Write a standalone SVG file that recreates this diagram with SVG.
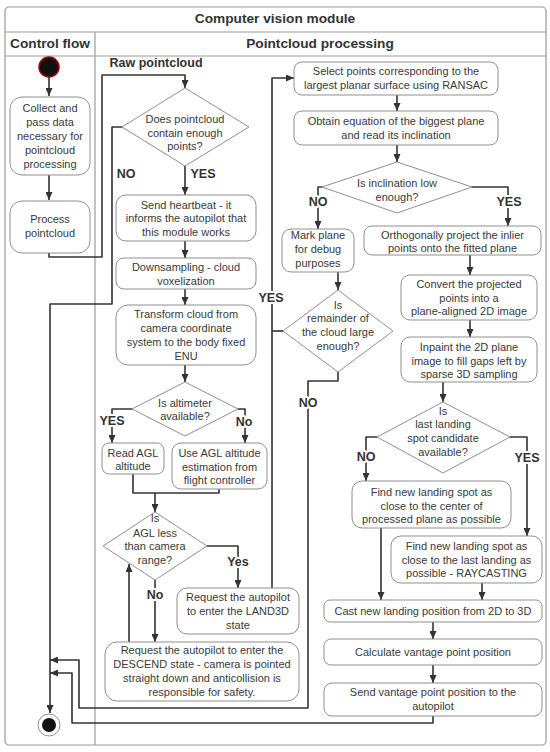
<svg xmlns="http://www.w3.org/2000/svg" width="550" height="752" viewBox="0 0 550 752">
<style>
.frame{fill:none;stroke:#9a9a9a;stroke-width:1.2}
.box{fill:#fff;stroke:#8f8f8f;stroke-width:1}
.t{font-family:"Liberation Sans",Arial,sans-serif;font-size:11px;fill:#3a3a3a;text-anchor:middle}
.h{font-family:"Liberation Sans",Arial,sans-serif;font-size:13.7px;font-weight:bold;fill:#333;text-anchor:middle}
.lbl{font-family:"Liberation Sans",Arial,sans-serif;font-size:12.5px;font-weight:bold;fill:#333;text-anchor:middle;paint-order:stroke;stroke:#fff;stroke-width:4px;stroke-linejoin:round}
.c{fill:none;stroke:#333;stroke-width:1.6;stroke-linejoin:round}
.ca{fill:none;stroke:#333;stroke-width:1.6;stroke-linejoin:round;marker-end:url(#ah)}
</style>
<defs>
<marker id="ah" viewBox="0 0 8 7" refX="8" refY="3.5" markerWidth="8" markerHeight="7" markerUnits="userSpaceOnUse" orient="auto"><path d="M0,0 L8,3.5 L0,7 z" fill="#333"/></marker>
</defs>
<rect width="550" height="752" fill="#fff"/>
<g id="swimlanes">
<rect class="frame" x="5" y="7" width="541" height="738" rx="4"/>
<line class="frame" x1="5" y1="32" x2="546" y2="32"/>
<line class="frame" x1="5" y1="56" x2="546" y2="56"/>
<line class="frame" x1="95" y1="32" x2="95" y2="745"/>
<text class="h" x="275" y="23">Computer vision module</text>
<text class="h" x="50" y="48">Control flow</text>
<text class="h" x="320" y="48">Pointcloud processing</text>
<text class="h" x="156" y="67" style="font-size:12.5px">Raw pointcloud</text>
</g>
<g id="connectors">
<path class="ca" d="M49,77 V96"/>
<path class="ca" d="M49,175 V200"/>
<path class="ca" d="M49,253 V257 H102 V75 H185 V88"/>
<path class="ca" d="M122,127 H112 V304 H50 V713"/>
<path class="ca" d="M185,166 V195"/>
<path class="ca" d="M185,241 V258"/>
<path class="ca" d="M185,289 V305"/>
<path class="ca" d="M185,365 V382"/>
<path class="ca" d="M132,409 H112 V443"/>
<path class="ca" d="M238,409 H245 V443"/>
<path class="c" d="M133,474 V493 H219 V489"/>
<path class="ca" d="M155,493 V512"/>
<path class="ca" d="M207,546 H238 V588"/>
<path class="ca" d="M155,580 V642"/>
<path class="ca" d="M129,642 V564"/>
<path class="ca" d="M272,588 V78 H294"/>
<path class="c" d="M283,331 H272"/>
<path class="ca" d="M397,95 V111"/>
<path class="ca" d="M397,145 V162"/>
<path class="ca" d="M322,187 H318 V229"/>
<path class="ca" d="M472,187 H508 V226"/>
<path class="ca" d="M338,272 V290"/>
<path class="ca" d="M338,372 V381 H308 V708 H79 V660 H50"/>
<path class="ca" d="M470,255 V275"/>
<path class="ca" d="M470,320 V337"/>
<path class="ca" d="M443,382 V402"/>
<path class="ca" d="M377,437 H366 V481"/>
<path class="ca" d="M510,437 H527 V536"/>
<path class="ca" d="M381,528 V600"/>
<path class="ca" d="M482,583 V600"/>
<path class="ca" d="M433,622 V639"/>
<path class="ca" d="M433,665 V683"/>
<path class="ca" d="M433,716 V723 H72 V673 H50"/>
<text class="lbl" x="126" y="178">NO</text>
<text class="lbl" x="203" y="178">YES</text>
<text class="lbl" x="112" y="425">YES</text>
<text class="lbl" x="244" y="426">No</text>
<text class="lbl" x="238" y="566">Yes</text>
<text class="lbl" x="155" y="599">No</text>
<text class="lbl" x="271" y="302">YES</text>
<text class="lbl" x="318" y="206">NO</text>
<text class="lbl" x="509" y="206">YES</text>
<text class="lbl" x="308" y="407">NO</text>
<text class="lbl" x="366" y="461">NO</text>
<text class="lbl" x="527" y="462">YES</text>
</g>
<g id="start"><circle cx="49" cy="67" r="10" fill="#111" stroke="#a00000" stroke-width="1.5"/></g>
<g id="end"><circle cx="49" cy="725" r="11" fill="#fff" stroke="#8f8f8f" stroke-width="1"/><circle cx="49" cy="725" r="7" fill="#111"/></g>
<g id="collect"><rect class="box" x="10" y="97" width="80" height="78" rx="12"/>
<text class="t" x="50" y="112">Collect and</text><text class="t" x="50" y="126">pass data</text><text class="t" x="50" y="140">necessary for</text><text class="t" x="50" y="154">pointcloud</text><text class="t" x="50" y="168">processing</text></g>
<g id="process"><rect class="box" x="10" y="201" width="80" height="52" rx="12"/>
<text class="t" x="50" y="223">Process</text><text class="t" x="50" y="237">pointcloud</text></g>
<g id="enough"><polygon class="box" points="185,88 249,127 185,166 122,127"/>
<text class="t" x="185" y="123">Does pointcloud</text><text class="t" x="185" y="137">contain enough</text><text class="t" x="185" y="150">points?</text></g>
<g id="heartbeat"><rect class="box" x="116" y="195" width="140" height="46" rx="10"/>
<text class="t" x="186" y="208.5">Send heartbeat - it</text><text class="t" x="186" y="222">informs the autopilot that</text><text class="t" x="186" y="235.5">this module works</text></g>
<g id="downsampling"><rect class="box" x="116" y="258" width="140" height="31" rx="8"/>
<text class="t" x="186" y="271">Downsampling - cloud</text><text class="t" x="186" y="284.5">voxelization</text></g>
<g id="transform"><rect class="box" x="116" y="305" width="140" height="60" rx="12"/>
<text class="t" x="186" y="318">Transform cloud from</text><text class="t" x="186" y="332">camera coordinate</text><text class="t" x="186" y="346">system to the body fixed</text><text class="t" x="186" y="360">ENU</text></g>
<g id="altimeter"><polygon class="box" points="185,382 238,409 185,436 132,409"/>
<text class="t" x="185" y="407">Is altimeter</text><text class="t" x="185" y="420">available?</text></g>
<g id="readagl"><rect class="box" x="102" y="443" width="62" height="31" rx="7"/>
<text class="t" x="133" y="457">Read AGL</text><text class="t" x="133" y="470">altitude</text></g>
<g id="useagl"><rect class="box" x="172" y="443" width="95" height="46" rx="9"/>
<text class="t" x="219.5" y="457">Use AGL altitude</text><text class="t" x="219.5" y="470.5">estimation from</text><text class="t" x="219.5" y="484">flight controller</text></g>
<g id="aglrange"><polygon class="box" points="155,512 207,546 155,580 103,546"/>
<text class="t" x="155" y="522">Is</text><text class="t" x="155" y="537">AGL less</text><text class="t" x="155" y="550">than camera</text><text class="t" x="155" y="564">range?</text></g>
<g id="land3d"><rect class="box" x="177" y="588" width="122" height="46" rx="10"/>
<text class="t" x="238" y="601">Request the autopilot</text><text class="t" x="238" y="615">to enter the LAND3D</text><text class="t" x="238" y="629">state</text></g>
<g id="descend"><rect class="box" x="105" y="642" width="194" height="59" rx="12"/>
<text class="t" x="202" y="654">Request the autopilot to enter the</text><text class="t" x="202" y="668">DESCEND state - camera is pointed</text><text class="t" x="202" y="682">straight down and anticollision is</text><text class="t" x="202" y="696">responsible for safety.</text></g>
<g id="ransac"><rect class="box" x="294" y="62" width="204" height="33" rx="8"/>
<text class="t" x="396" y="75">Select points corresponding to the</text><text class="t" x="396" y="88.5">largest planar surface using RANSAC</text></g>
<g id="planeeq"><rect class="box" x="294" y="111" width="204" height="34" rx="8"/>
<text class="t" x="396" y="125">Obtain equation of the biggest plane</text><text class="t" x="396" y="139">and read its inclination</text></g>
<g id="inclination"><polygon class="box" points="397,162 472,187 397,213 322,187"/>
<text class="t" x="397" y="187">Is inclination low</text><text class="t" x="397" y="201">enough?</text></g>
<g id="markplane"><rect class="box" x="282" y="229" width="72" height="43" rx="9"/>
<text class="t" x="318" y="239">Mark plane</text><text class="t" x="318" y="253">for debug</text><text class="t" x="318" y="267">purposes</text></g>
<g id="remainder"><polygon class="box" points="338,290 393,331 338,372 283,331"/>
<text class="t" x="338" y="309">Is</text><text class="t" x="338" y="322">remainder of</text><text class="t" x="338" y="336">the cloud large</text><text class="t" x="338" y="350">enough?</text></g>
<g id="project"><rect class="box" x="364" y="226" width="177" height="29" rx="8"/>
<text class="t" x="452.5" y="238.5">Orthogonally project the inlier</text><text class="t" x="452.5" y="251.5">points onto the fitted plane</text></g>
<g id="convert"><rect class="box" x="401" y="275" width="136" height="45" rx="9"/>
<text class="t" x="469" y="288">Convert the projected</text><text class="t" x="469" y="302">points into a</text><text class="t" x="469" y="315">plane-aligned 2D image</text></g>
<g id="inpaint"><rect class="box" x="401" y="337" width="136" height="45" rx="9"/>
<text class="t" x="469" y="351">Inpaint the 2D plane</text><text class="t" x="469" y="365">image to fill gaps left by</text><text class="t" x="469" y="378">sparse 3D sampling</text></g>
<g id="lastspot"><polygon class="box" points="443,402 510,437 443,473 377,437"/>
<text class="t" x="443" y="415">Is</text><text class="t" x="443" y="428">last landing</text><text class="t" x="443" y="442">spot candidate</text><text class="t" x="443" y="456">available?</text></g>
<g id="findcenter"><rect class="box" x="352" y="481" width="159" height="47" rx="10"/>
<text class="t" x="431.5" y="496">Find new landing spot as</text><text class="t" x="431.5" y="509.5">close to the center of</text><text class="t" x="431.5" y="523">processed plane as possible</text></g>
<g id="findlast"><rect class="box" x="391" y="536" width="151" height="47" rx="10"/>
<text class="t" x="466.5" y="550">Find new landing spot as</text><text class="t" x="466.5" y="564">close to the last landing as</text><text class="t" x="466.5" y="577">possible - RAYCASTING</text></g>
<g id="cast"><rect class="box" x="324" y="600" width="218" height="22" rx="6"/>
<text class="t" x="433" y="615">Cast new landing position from 2D to 3D</text></g>
<g id="vantage"><rect class="box" x="324" y="639" width="218" height="26" rx="7"/>
<text class="t" x="433" y="656">Calculate vantage point position</text></g>
<g id="send"><rect class="box" x="324" y="683" width="218" height="33" rx="8"/>
<text class="t" x="433" y="696">Send vantage point position to the</text><text class="t" x="433" y="710">autopilot</text></g>
</svg>
